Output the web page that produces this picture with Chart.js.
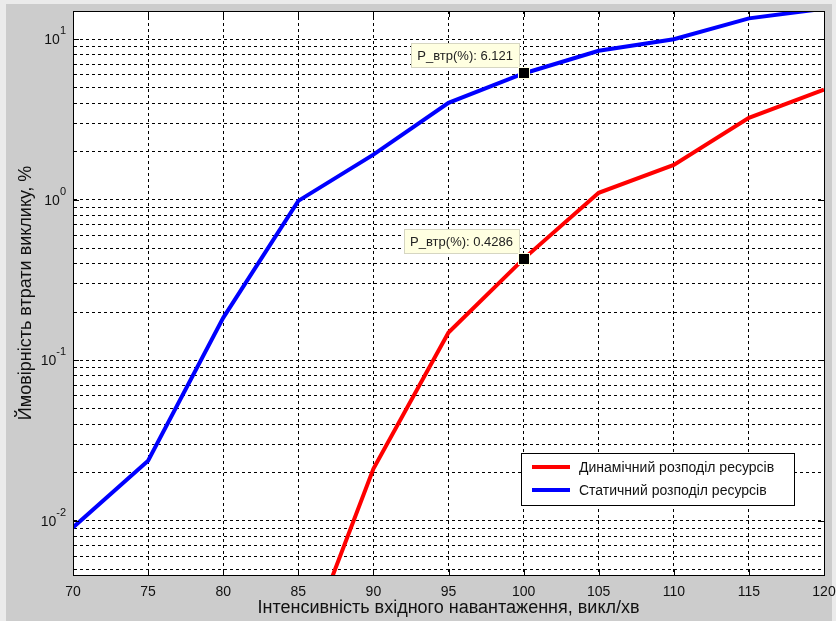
<!DOCTYPE html>
<html>
<head>
<meta charset="utf-8">
<script src="https://cdn.jsdelivr.net/npm/chart.js@4.4.1/dist/chart.umd.min.js"></script>
<style>
  html, body { margin: 0; padding: 0; background: #ebebeb; }
  canvas { display: block; }
</style>
</head>
<body>
<canvas id="c" width="836" height="621"></canvas>
<script>
// Call arrival rate, calls per minute
const loadRates = [70, 75, 80, 85, 90, 95, 100, 105, 110, 115, 120];
// Call loss probability, %
const dynamicLoss = [null, null, null, 0.00125, 0.0211, 0.149, 0.4286, 1.106, 1.65, 3.24, 4.85];
const staticLoss  = [0.0091, 0.0237, 0.184, 0.985, 1.91, 4.02, 6.121, 8.48, 10.0, 13.5, 15.5];
const seriesNames = ['Динамічний розподіл ресурсів', 'Статичний розподіл ресурсів'];
const xTitle = 'Інтенсивність вхідного навантаження, викл/хв';
const yTitle = 'Ймовірність втрати виклику, %';
const yDecades = [0.01, 0.1, 1, 10];
const yDecadeExponents = ['-2', '-1', '0', '1'];
// Data tips shown on the curves at x = 100
const tipIndex = 6;
const tipPrefix = 'P_втр(%): ';

const FONT = '"Liberation Sans", Arial, sans-serif';

function pairs(xs, ys) {
  return xs.map((x, i) => ({ x: x, y: ys[i] })).filter(p => p.y !== null);
}

const frame = {
  id: 'frame',
  beforeDraw(chart) {
    const ctx = chart.ctx, a = chart.chartArea;
    ctx.save();
    ctx.fillStyle = '#ebebeb';
    ctx.fillRect(0, 0, chart.width, chart.height);
    ctx.fillStyle = '#cccccc';
    ctx.fillRect(6, 4, 826, 617);
    ctx.fillStyle = '#ffffff';
    ctx.fillRect(a.left, a.top, a.right - a.left, a.bottom - a.top);
    ctx.restore();
  },
  afterDraw(chart) {
    const ctx = chart.ctx, a = chart.chartArea;
    const xs = chart.scales.x, ys = chart.scales.y;
    ctx.save();
    // axes box
    ctx.strokeStyle = '#000';
    ctx.lineWidth = 1;
    ctx.strokeRect(Math.round(a.left) + 0.5, Math.round(a.top) + 0.5,
                   Math.round(a.right - a.left), Math.round(a.bottom - a.top));
    // inner tick marks
    ctx.beginPath();
    loadRates.forEach(v => {
      const px = Math.round(xs.getPixelForValue(v)) + 0.5;
      ctx.moveTo(px, a.bottom); ctx.lineTo(px, a.bottom - 6);
      ctx.moveTo(px, a.top); ctx.lineTo(px, a.top + 6);
    });
    yDecades.forEach(v => {
      const py = Math.round(ys.getPixelForValue(v)) + 0.5;
      ctx.moveTo(a.left, py); ctx.lineTo(a.left + 6, py);
      ctx.moveTo(a.right, py); ctx.lineTo(a.right - 6, py);
    });
    ctx.stroke();

    // y tick labels with superscript exponents
    ctx.fillStyle = '#111';
    ctx.textBaseline = 'middle';
    yDecades.forEach((v, i) => {
      const py = ys.getPixelForValue(v);
      const exp = yDecadeExponents[i];
      ctx.font = '11px ' + FONT;
      const ew = ctx.measureText(exp).width;
      const right = a.left - 7;
      ctx.textAlign = 'left';
      ctx.fillText(exp, right - ew, py - 8);
      ctx.font = '14px ' + FONT;
      ctx.textAlign = 'right';
      ctx.fillText('10', right - ew, py + 1);
    });

    // legend
    const lx = 521, ly = 453, lw = 273, lh = 52;
    ctx.fillStyle = '#fff';
    ctx.fillRect(lx, ly, lw, lh);
    ctx.strokeStyle = '#000';
    ctx.strokeRect(lx + 0.5, ly + 0.5, lw, lh);
    chart.data.datasets.forEach((ds, i) => {
      const y = ly + 14 + i * 23;
      ctx.strokeStyle = ds.borderColor;
      ctx.lineWidth = 4;
      ctx.beginPath();
      ctx.moveTo(lx + 11, y); ctx.lineTo(lx + 49, y);
      ctx.stroke();
      ctx.fillStyle = '#111';
      ctx.font = '14px ' + FONT;
      ctx.textAlign = 'left';
      ctx.textBaseline = 'middle';
      ctx.fillText(ds.label, lx + 58, y + 1);
    });

    // data tips
    [staticLoss, dynamicLoss].forEach(arr => {
      const v = arr[tipIndex];
      const px = Math.round(xs.getPixelForValue(loadRates[tipIndex]));
      const py = Math.round(ys.getPixelForValue(v));
      const text = tipPrefix + v;
      ctx.font = '13px ' + FONT;
      const tw = ctx.measureText(text).width;
      const bw = tw + 12, bh = 24;
      const bx = px - 5 - bw, by = py - 6 - bh;
      ctx.fillStyle = '#ffffe1';
      ctx.fillRect(bx, by, bw, bh);
      ctx.strokeStyle = '#d6d6c2';
      ctx.lineWidth = 1;
      ctx.strokeRect(Math.round(bx) + 0.5, by + 0.5, Math.round(bw), bh);
      ctx.fillStyle = '#222';
      ctx.textAlign = 'left';
      ctx.textBaseline = 'middle';
      ctx.fillText(text, bx + 6, by + bh / 2 + 1);
      // marker
      ctx.fillStyle = '#ffffe1';
      ctx.fillRect(px - 6, py - 6, 12, 12);
      ctx.fillStyle = '#000';
      ctx.fillRect(px - 5, py - 5, 10, 10);
    });
    ctx.restore();
  }
};

new Chart(document.getElementById('c'), {
  type: 'line',
  data: {
    datasets: [
      { label: seriesNames[0], data: pairs(loadRates, dynamicLoss), borderColor: '#ff0000',
        borderWidth: 4, pointRadius: 0, tension: 0, clip: 0 },
      { label: seriesNames[1], data: pairs(loadRates, staticLoss), borderColor: '#0000ff',
        borderWidth: 4, pointRadius: 0, tension: 0, clip: 0 }
    ]
  },
  options: {
    responsive: false,
    animation: false,
    events: [],
    layout: { padding: { left: 0, right: 12, top: 11, bottom: 0 } },
    plugins: { legend: { display: false }, tooltip: { enabled: false } },
    scales: {
      x: {
        type: 'linear', min: 70, max: 120,
        afterBuildTicks: s => { s.ticks = loadRates.map(v => ({ value: v })); },
        afterFit: s => { s.height = 46; s.paddingLeft = 0; s.paddingRight = 0; },
        grid: { color: '#000', lineWidth: 1, drawTicks: false },
        border: { display: true, color: '#000', dash: [3, 3] },
        ticks: { color: '#111', font: { family: FONT, size: 14 }, padding: 9, maxRotation: 0 },
        title: { display: true, text: xTitle, color: '#111',
                 font: { family: FONT, size: 18 }, padding: { top: 0, bottom: 2 } }
      },
      y: {
        type: 'logarithmic', min: 0.0046, max: 15,
        afterBuildTicks: s => {
          const t = [];
          [0.001, 0.01, 0.1, 1].forEach(d => {
            for (let k = 1; k <= 9; k++) {
              const v = +(d * k).toPrecision(3);
              if (v >= 0.005) t.push({ value: v });
            }
          });
          t.push({ value: 10 });
          s.ticks = t;
        },
        afterFit: s => { s.width = 73; s.paddingTop = 0; s.paddingBottom = 0; },
        grid: { color: '#000', lineWidth: 1, drawTicks: false },
        border: { display: true, color: '#000', dash: [3, 3] },
        ticks: { display: false },
        title: { display: true, text: yTitle, color: '#111',
                 font: { family: FONT, size: 18 }, padding: { top: 15, bottom: 0 } }
      }
    }
  },
  plugins: [frame]
});
</script>
</body>
</html>
